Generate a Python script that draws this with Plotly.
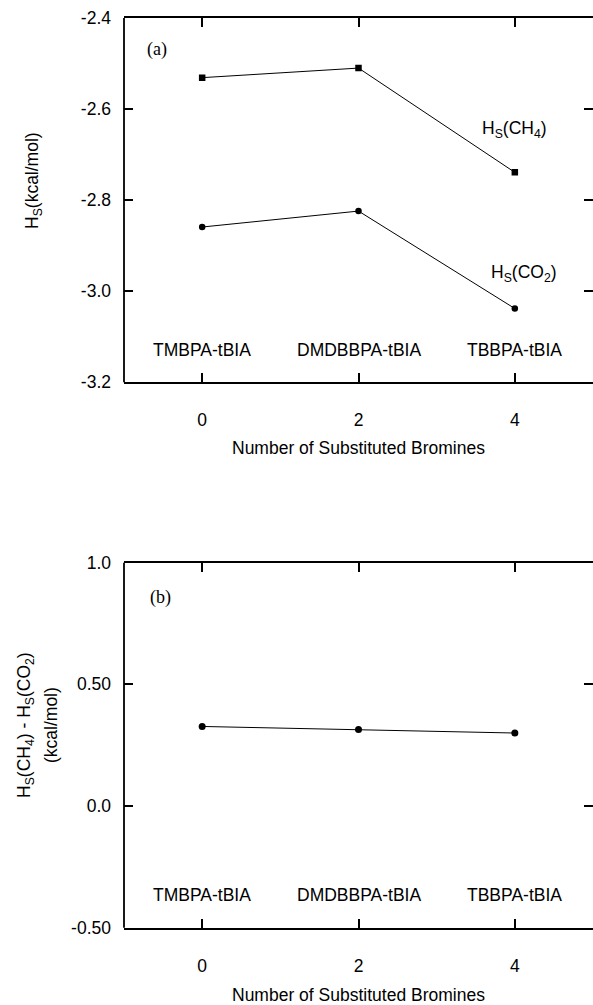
import plotly.graph_objects as go

# ---- data ----
bromines = [0, 2, 4]
compounds = ["TMBPA-tBIA", "DMDBBPA-tBIA", "TBBPA-tBIA"]
hs_ch4 = [-2.531, -2.510, -2.739]
hs_co2 = [-2.859, -2.824, -3.038]
hs_diff = [0.327, 0.315, 0.300]

x_ticks = [0, 2, 4]
x_ticktext = ["0", "2", "4"]
top_y_ticks = [-3.2, -3.0, -2.8, -2.6, -2.4]
top_y_ticktext = ["-3.2", "-3.0", "-2.8", "-2.6", "-2.4"]
bot_y_ticks = [-0.5, 0.0, 0.5, 1.0]
bot_y_ticktext = ["-0.50", "0.0", "0.50", "1.0"]

W, H = 593, 1005
L = 124
SANS = "Liberation Sans, Arial, Helvetica, sans-serif"
SERIF = "Liberation Serif, Times New Roman, serif"
FS = 17.5

def py(px):
    return 1 - px / H

def pxp(px):
    return (px - L) / (W - L)

fig = go.Figure()

line_style = dict(color="black", width=1)
fig.add_trace(go.Scatter(x=bromines, y=hs_ch4, mode="lines+markers", line=line_style,
                         marker=dict(symbol="square", size=6.5, color="black"),
                         xaxis="x", yaxis="y"))
fig.add_trace(go.Scatter(x=bromines, y=hs_co2, mode="lines+markers", line=line_style,
                         marker=dict(symbol="circle", size=6.5, color="black"),
                         xaxis="x", yaxis="y"))
fig.add_trace(go.Scatter(x=bromines, y=hs_diff, mode="lines+markers", line=line_style,
                         marker=dict(symbol="circle", size=7, color="black"),
                         xaxis="x2", yaxis="y2"))

top_dom = [py(382.3), py(18)]
bot_dom = [py(927.7), py(562.7)]

xcommon = dict(range=[-1, 5], tickvals=x_ticks, ticktext=x_ticktext, ticks="inside",
               ticklen=9, tickwidth=1.5, tickcolor="black", showline=True, linewidth=1.8,
               linecolor="black", mirror="ticks", showgrid=False, zeroline=False,
               tickfont=dict(family=SANS, size=FS, color="black"), ticklabelstandoff=21)
ycommon = dict(ticks="inside", ticklen=9, tickwidth=1.5, tickcolor="black", showline=False,
               mirror="ticks", showgrid=False, zeroline=False,
               tickfont=dict(family=SANS, size=FS, color="black"), ticklabelstandoff=12)

fig.update_layout(
    width=W, height=H,
    margin=dict(l=L, r=0, t=0, b=0, autoexpand=False),
    paper_bgcolor="white", plot_bgcolor="white",
    showlegend=False,
    xaxis=dict(domain=[0, 1], anchor="y", **xcommon),
    yaxis=dict(domain=top_dom, anchor="x", range=[-3.2, -2.4], tickvals=top_y_ticks,
               ticktext=top_y_ticktext, **ycommon),
    xaxis2=dict(domain=[0, 1], anchor="y2", **xcommon),
    yaxis2=dict(domain=bot_dom, anchor="x2", range=[-0.5, 1.0], tickvals=bot_y_ticks,
                ticktext=bot_y_ticktext, **ycommon),
)

# left spines
for yd in ["y domain", "y2 domain"]:
    xd = "x domain" if yd == "y domain" else "x2 domain"
    fig.add_shape(type="line", xref=xd, yref=yd, x0=0, x1=0, y0=0, y1=1,
                  line=dict(color="black", width=1.8))

ann = []
txt = dict(family=SANS, size=FS, color="black")
C = dict(showarrow=False, xanchor="center", yanchor="middle")
# compound labels
for xv, name in zip(bromines, compounds):
    ann.append(dict(x=xv, y=-3.129, xref="x", yref="y", text=name, font=txt, **C))
    ann.append(dict(x=xv, y=-0.364, xref="x2", yref="y2", text=name, font=txt, **C))

# series labels
ann.append(dict(x=4, y=-2.645, xref="x", yref="y", text="H<sub>S</sub>(CH<sub>4</sub>)",
                font=txt, **C))
ann.append(dict(x=4.115, y=-2.962, xref="x", yref="y", text="H<sub>S</sub>(CO<sub>2</sub>)",
                font=txt, **C))

# panel labels
ann.append(dict(x=pxp(157), y=py(49), xref="paper", yref="paper", text="(a)",
                font=dict(family=SERIF, size=18, color="black"), **C))
ann.append(dict(x=pxp(160), y=py(597), xref="paper", yref="paper", text="(b)",
                font=dict(family=SERIF, size=18, color="black"), **C))

# axis titles
xt = "Number of Substituted Bromines"
ann.append(dict(x=0.5, y=py(448), xref="paper", yref="paper", text=xt, font=txt, **C))
ann.append(dict(x=0.5, y=py(995), xref="paper", yref="paper", text=xt, font=txt, **C))
ann.append(dict(x=pxp(33), y=py(181), xref="paper", yref="paper", text="H<sub>S</sub>(kcal/mol)",
                textangle=-90, font=txt, **C))
ann.append(dict(x=pxp(25), y=py(725), xref="paper", yref="paper",
                text="H<sub>S</sub>(CH<sub>4</sub>) - H<sub>S</sub>(CO<sub>2</sub>)",
                textangle=-90, font=txt, **C))
ann.append(dict(x=pxp(51), y=py(725), xref="paper", yref="paper", text="(kcal/mol)",
                textangle=-90, font=txt, **C))

fig.update_layout(annotations=ann)
fig.write_html("out.html")
